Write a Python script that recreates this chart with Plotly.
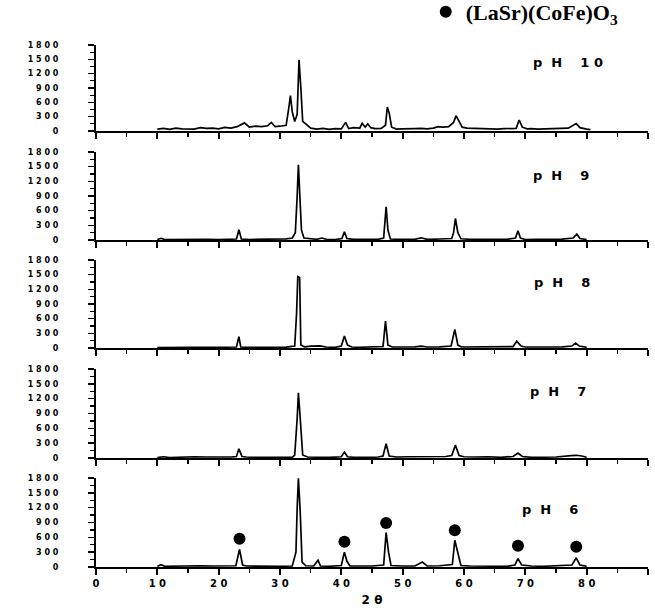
import plotly.graph_objects as go
from plotly.subplots import make_subplots

W, H = 655, 610
NB = "\u00a0"

# ---------------- data ----------------
panel_names = ["p" + NB * 2 + "H" + NB * 4 + "1" + NB + "0",
               "p" + NB * 2 + "H" + NB * 4 + "9",
               "p" + NB * 2 + "H" + NB * 4 + "8",
               "p" + NB * 2 + "H" + NB * 4 + "7",
               "p" + NB * 2 + "H" + NB * 4 + "6"]

ph10_x = [10.0, 11, 12, 13, 14, 15, 16, 17, 18, 19, 20, 21, 22, 23, 24.2, 25, 26, 27, 28, 28.6, 29.2, 30, 31,
          31.4, 31.7, 32.0, 32.4, 32.8, 33.1, 33.4, 33.7, 34.2, 35, 36, 37, 38, 39, 40, 40.7, 41.2, 42, 43, 43.4,
          43.9, 44.3, 44.8, 45.5, 46.5, 47.2, 47.5, 47.8, 48.2, 49, 50, 51, 52, 53, 54, 55, 55.8, 56.5, 57.5, 58.3,
          58.7, 59.2, 59.7, 60.5, 61.5, 62.5, 63.5, 64.5, 65.5, 66.5, 67.5, 68.5, 69.0, 69.5, 70.3, 71, 72, 73, 74,
          75, 76, 77, 78.3, 78.9, 80, 80.6]
ph10_y = [40, 55, 35, 60, 45, 50, 40, 70, 55, 60, 45, 75, 60, 90, 170, 80, 100, 90, 110, 180, 90, 100, 120,
          450, 740, 400, 200, 350, 1490, 900, 200, 150, 60, 40, 55, 35, 50, 45, 180, 50, 70, 60, 160,
          80, 150, 70, 50, 55, 120, 500, 380, 80, 40, 45, 40, 50, 55, 45, 60, 90, 80, 90, 180,
          320, 200, 80, 60, 55, 50, 45, 50, 40, 50, 45, 55, 230, 80, 45, 50, 40, 45, 50,
          40, 55, 60, 155, 70, 40, 30]

ph9_x = [10, 10.6, 11.2, 12, 14, 16, 18, 20, 22, 22.9, 23.3, 23.7, 25, 27, 29, 30, 31, 32, 32.5, 32.8, 33.0,
         33.2, 33.5, 33.9, 35, 36, 36.8, 37.6, 39, 40.1, 40.5, 40.9, 42, 44, 46, 46.9, 47.3, 47.6, 48, 50, 52,
         53, 54, 56, 58, 58.3, 58.6, 59.0, 59.5, 61, 63, 65, 67, 68.4, 68.8, 69.2, 70, 72, 74, 76, 77.8, 78.4,
         78.9, 80]
ph9_y = [10, 35, 8, 10, 12, 10, 12, 10, 12, 20, 210, 20, 10, 12, 10, 20, 25, 40, 150, 900, 1540,
         1000, 200, 40, 20, 15, 40, 15, 10, 30, 170, 30, 12, 10, 15, 40, 680, 200, 20, 12, 15,
         45, 12, 20, 30, 150, 440, 150, 25, 15, 18, 12, 15, 40, 190, 40, 10, 15, 12, 18, 40, 120,
         30, 10]

ph8_x = [10, 12, 14, 16, 18, 20, 22, 22.9, 23.3, 23.6, 25, 27, 29, 31, 32.4, 32.7, 32.9, 33.2, 33.4, 34, 35,
         36.5, 37.5, 39, 40.0, 40.5, 41.0, 41.7, 43, 45, 46.8, 47.2, 47.6, 48.3, 50, 52, 53, 54, 56, 57.9, 58.5,
         59.0, 59.6, 62, 64, 66, 68.0, 68.6, 69.3, 70, 72, 74, 76, 77.6, 78.2, 78.8, 80]
ph8_y = [8, 15, 10, 15, 12, 15, 10, 20, 230, 20, 15, 12, 15, 18, 40, 700, 1460, 1440, 60, 25, 40,
         45, 20, 15, 40, 245, 60, 20, 15, 18, 30, 550, 60, 20, 18, 22, 40, 20, 25, 40, 380,
         60, 20, 25, 20, 22, 30, 140, 40, 20, 25, 15, 25, 40, 100, 40, 15]

ph7_x = [10, 11, 12, 14, 16, 18, 20, 22, 22.9, 23.3, 23.8, 24.5, 26, 28, 30, 32, 32.4, 32.8, 33.0, 33.3,
         33.7, 34.5, 36, 38, 40.0, 40.5, 41.0, 42, 44, 46, 46.8, 47.3, 47.8, 49, 51, 53, 55, 57, 58.0, 58.6,
         59.2, 60, 62, 64, 66, 68.0, 68.8, 69.5, 71, 73, 75, 77.5, 78.3, 79.2, 80]
ph7_y = [10, 25, 10, 20, 25, 20, 15, 20, 30, 185, 30, 20, 15, 10, 12, 15, 60, 800, 1320, 800,
         60, 20, 15, 12, 25, 120, 25, 15, 12, 20, 40, 290, 40, 20, 25, 30, 20, 30, 50, 260,
         50, 25, 20, 25, 15, 30, 100, 30, 15, 25, 20, 50, 55, 40, 15]

ph6_x = [10, 10.6, 11.2, 13, 15, 17, 19, 21, 22.8, 23.4, 23.9, 24.5, 26, 28, 30, 32, 32.6, 32.8, 33.0, 33.3,
         33.6, 34.2, 35.5, 36.2, 36.6, 38, 40.0, 40.5, 40.9, 41.4, 43, 45, 46.9, 47.3, 47.7, 48.1, 50, 52, 53.2,
         54, 56, 58.1, 58.5, 59.0, 59.5, 61, 63, 65, 67, 68.3, 68.8, 69.4, 71, 73, 75, 77.6, 78.3, 78.9, 80]
ph6_y = [15, 45, 15, 20, 15, 25, 20, 15, 25, 355, 40, 20, 15, 20, 15, 20, 300, 1200, 1795, 1100,
         100, 25, 20, 136, 20, 15, 30, 300, 120, 20, 15, 20, 40, 695, 300, 30, 20, 20, 100,
         20, 25, 50, 540, 300, 30, 20, 15, 20, 15, 40, 170, 40, 20, 15, 20, 40, 185, 40, 15]

# (LaSr)(CoFe)O3 reflections marked on the pH 6 pattern
marker_x = [23.4, 33.0, 40.5, 47.3, 58.5, 68.8, 78.3]
marker_y = [570, 2000, 510, 890, 745, 430, 410]

x_tickvals = [0, 10, 20, 30, 40, 50, 60, 70, 80, 90]
x_ticktext = ["0", "1 0", "2 0", "3 0", "4 0", "5 0", "6 0", "7 0", "8 0", "9 0"]
y_tickvals = [0, 300, 600, 900, 1200, 1500, 1800]
y_ticktext = ["0", "3 0 0", "6 0 0", "9 0 0", "1 2 0 0", "1 5 0 0", "1 8 0 0"]

series_x = [ph10_x, ph9_x, ph8_x, ph7_x, ph6_x]
series_y = [ph10_y, ph9_y, ph8_y, ph7_y, ph6_y]
label_pos = [(70.9, 1440), (70.9, 1310), (71.1, 1330), (70.4, 1340), (69.2, 1160)]

# ---------------- layout geometry (pixels) ----------------
x_left_px, x_right_px = 96, 648
panels_px = [(45, 131), (152, 240), (260, 348), (369, 458), (478, 567)]

fig = make_subplots(rows=5, cols=1)

for i in range(5):
    fig.add_trace(go.Scatter(x=series_x[i], y=series_y[i], mode="lines",
                             line=dict(color="black", width=1.7), showlegend=False,
                             hoverinfo="skip"), row=i + 1, col=1)

fig.add_trace(go.Scatter(x=marker_x, y=marker_y, mode="markers", cliponaxis=False,
                         marker=dict(color="black", size=12, symbol="circle"),
                         name="<b>(LaSr)(CoFe)O<sub>3</sub></b>", showlegend=True),
              row=5, col=1)

fig.update_layout(template="simple_white")

tick_font = dict(family="DejaVu Sans", size=8, color="black", weight="bold")
for i in range(5):
    top, bot = panels_px[i]
    xa = "xaxis" if i == 0 else f"xaxis{i + 1}"
    ya = "yaxis" if i == 0 else f"yaxis{i + 1}"
    fig.layout[xa].update(
        domain=[x_left_px / W, x_right_px / W], range=[0, 90], showgrid=False, zeroline=False,
        showline=True, linecolor="black", linewidth=2,
        tickmode="array", tickvals=x_tickvals, ticktext=x_ticktext,
        showticklabels=(i == 4), tickfont=dict(family="DejaVu Sans", size=10, color="black", weight="bold"))
    fig.layout[ya].update(
        domain=[1 - bot / H, 1 - top / H], range=[0, 1800], showgrid=False, zeroline=False,
        showline=True, linecolor="black", linewidth=2,
        tickmode="array", tickvals=y_tickvals, ticktext=y_ticktext, tickfont=tick_font,
        ticklabelstandoff=28)
    fig.add_annotation(x=label_pos[i][0], y=label_pos[i][1], xref=f"x{i + 1}", yref=f"y{i + 1}",
                       text=panel_names[i], showarrow=False, xanchor="left", yanchor="middle",
                       font=dict(family="DejaVu Sans", size=13, color="black", weight="bold"))

fig.update_xaxes(ticks="outside", ticklen=6, tickwidth=2, tickcolor="#000000",
                 minor=dict(ticks="outside", ticklen=4, tickwidth=1.5, tickcolor="#000000", dtick=5))
fig.update_yaxes(ticks="outside", ticklen=6, tickwidth=1.5, tickcolor="#000000",
                 minor=dict(ticks="outside", ticklen=4, tickwidth=1.2, tickcolor="#000000", dtick=150))

fig.layout.xaxis5.title = dict(text="<b>2 θ</b>", font=dict(family="DejaVu Sans", size=12, color="black"),
                               standoff=8)

fig.update_layout(
    width=W, height=H,
    margin=dict(l=0, r=0, t=0, b=0, autoexpand=False),
    paper_bgcolor="white", plot_bgcolor="white",
    legend=dict(x=0.65, y=1.015, xanchor="left", yanchor="top", bgcolor="rgba(0,0,0,0)",
                font=dict(family="Liberation Serif", size=22, color="black"),
                itemsizing="constant", tracegroupgap=0),
)

fig.write_html("out.html", config={"displayModeBar": False, "staticPlot": True},
               post_script="document.body.style.margin='0px';")
